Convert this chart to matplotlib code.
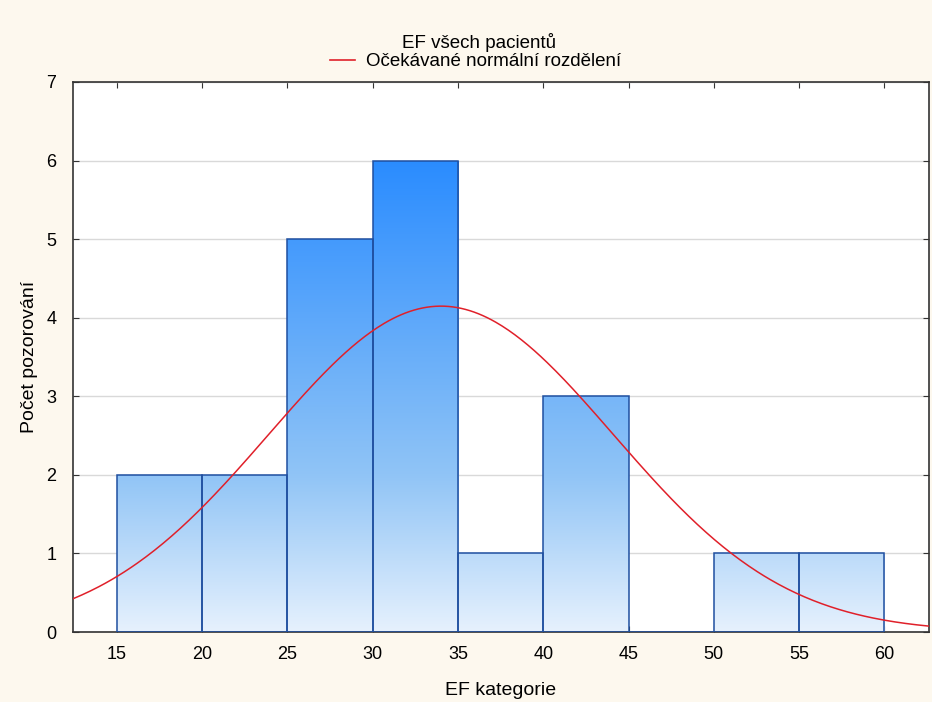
#!/usr/bin/env python
import matplotlib
matplotlib.use('Agg')
import matplotlib.pyplot as plt
import numpy as np
from matplotlib.colors import LinearSegmentedColormap

# Histogram of EF values
BIN_EDGES = [15, 20, 25, 30, 35, 40, 45, 50, 55, 60]
COUNTS = [2, 2, 5, 6, 1, 3, 0, 1, 1]
# expected normal distribution parameters
MEAN = 34.0
SD = 10.1
BIN_WIDTH = 5

TITLE = 'EF všech pacientů'
LEGEND_LABEL = 'Očekávané normální rozdělení'
XLABEL = 'EF kategorie'
YLABEL = 'Počet pozorování'
XTICKS = [15, 20, 25, 30, 35, 40, 45, 50, 55, 60]
YTICKS = [0, 1, 2, 3, 4, 5, 6, 7]


def main():
    plt.rcParams['font.family'] = ['Liberation Sans', 'DejaVu Sans']
    bg = '#fdf8ee'
    fig = plt.figure(figsize=(9.32, 7.02), dpi=100, facecolor=bg)
    ax = fig.add_axes([0.0783, 0.0997, 0.9185, 0.7835])
    ax.set_facecolor('white')

    xlim = (12.42, 62.62)
    ylim = (0, 7)
    ax.set_xlim(xlim)
    ax.set_ylim(ylim)

    ax.yaxis.grid(True, color='#d9d9d9', lw=1)
    ax.set_axisbelow(True)

    cmap = LinearSegmentedColormap.from_list(
        'ef', [(0.0, '#e6f1fd'), (2 / 7, '#90c4f6'), (6 / 7, '#2a8cff'),
               (1.0, '#1a82ff')])
    grad = np.linspace(0, 1, 256).reshape(-1, 1)

    lefts = BIN_EDGES[:-1]
    bars = ax.bar(lefts, COUNTS, width=BIN_WIDTH, align='edge',
                  facecolor='none', edgecolor='#1f4fa0', lw=1.1, zorder=3)
    for b in bars:
        if b.get_height() <= 0:
            continue
        im = ax.imshow(grad, cmap=cmap, origin='lower', aspect='auto',
                       extent=[xlim[0], xlim[1], 0, 7], zorder=2)
        im.set_clip_path(b)
    ax.set_xlim(xlim)
    ax.set_ylim(ylim)

    xs = np.linspace(xlim[0], xlim[1], 400)
    n = sum(COUNTS)
    ys = n * BIN_WIDTH / (SD * np.sqrt(2 * np.pi)) * np.exp(-0.5 * ((xs - MEAN) / SD) ** 2)
    ax.plot(xs, ys, color='#e0202a', lw=1.1, zorder=4)

    ax.set_xticks(XTICKS)
    ax.set_yticks(YTICKS)
    ax.tick_params(axis='both', direction='in', length=4, labelsize=13,
                   top=True, right=True, color='#333333')
    ax.tick_params(axis='x', pad=10)
    ax.tick_params(axis='y', pad=12)
    for s in ax.spines.values():
        s.set_color('#333333')
        s.set_linewidth(1.2)

    ax.set_xlabel(XLABEL, fontsize=14, labelpad=14)
    ax.set_ylabel(YLABEL, fontsize=14, labelpad=6)

    fig.text(0.514, 0.939, TITLE, ha='center', va='center', fontsize=13.5)
    fig.add_artist(plt.Line2D([0.354, 0.381], [0.914, 0.914], color='#e0202a', lw=1.2))
    fig.text(0.393, 0.913, LEGEND_LABEL, ha='left', va='center', fontsize=13.5)

    fig.savefig('out.png', dpi=100, facecolor=bg)


if __name__ == '__main__':
    main()
